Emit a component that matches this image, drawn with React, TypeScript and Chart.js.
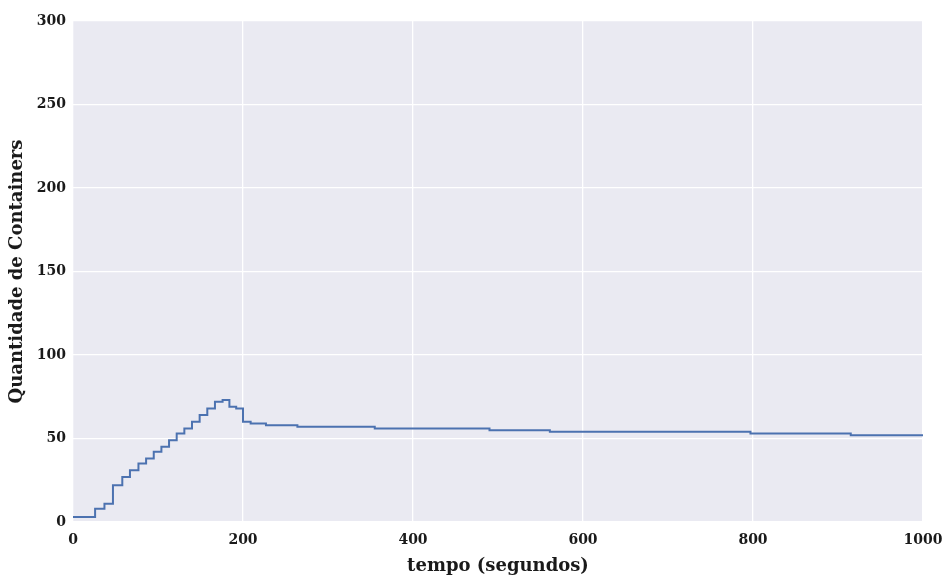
import React, { useEffect, useRef } from "react";
import { Chart, registerables } from "chart.js";

Chart.register(...registerables);

// Container count over time: each entry marks the instant the count changes
const changeTimes = [0, 26, 37, 47, 58, 67, 77, 86, 95, 104, 113, 122, 131, 140, 149, 158, 167, 176, 184, 192, 200, 209, 227, 264, 355, 490, 561, 797, 915, 1000];
const containerCounts = [3, 8, 11, 22, 27, 31, 35, 38, 42, 45, 49, 53, 56, 60, 64, 68, 72, 73, 69, 68, 60, 59, 58, 57, 56, 55, 54, 53, 52, 52];

const xTitle = "tempo (segundos)";
const yTitle = "Quantidade de Containers";

const FONT = "'DejaVu Serif', serif";

const plotBackground = {
  id: "plotBackground",
  beforeDraw(chart: any) {
    const { ctx, chartArea } = chart;
    ctx.save();
    ctx.fillStyle = "#EAEAF2";
    ctx.fillRect(chartArea.left, chartArea.top, chartArea.right - chartArea.left, chartArea.bottom - chartArea.top);
    ctx.restore();
  },
};

export default function App() {
  const canvasRef = useRef<HTMLCanvasElement | null>(null);

  useEffect(() => {
    document.body.style.margin = "0";
    const canvas = canvasRef.current;
    if (!canvas) return;
    const points = changeTimes.map((t, i) => ({ x: t, y: containerCounts[i] }));
    const chart = new Chart(canvas, {
      type: "line",
      data: {
        datasets: [
          {
            data: points,
            stepped: "before",
            borderColor: "#4C72B0",
            borderWidth: 2,
            pointRadius: 0,
            fill: false,
          },
        ],
      },
      options: {
        animation: false,
        responsive: false,
        maintainAspectRatio: false,
        layout: { padding: { top: 21, right: 23, left: 0, bottom: 0 } },
        plugins: {
          legend: { display: false },
          tooltip: { enabled: false },
        },
        scales: {
          x: {
            type: "linear",
            min: 0,
            max: 1000,
            afterFit(scale: any) {
              scale.height = 57;
              scale.paddingRight = 0;
              scale.paddingLeft = 0;
            },
            ticks: {
              stepSize: 200,
              padding: 10,
              color: "#1a1a1a",
              font: { family: FONT, size: 14, weight: "bold" },
              maxRotation: 0,
              callback: (v: any) => String(v),
            },
            grid: { color: "#FFFFFF", lineWidth: 1.3, drawTicks: false },
            border: { display: false },
            title: {
              display: true,
              text: xTitle,
              color: "#1a1a1a",
              font: { family: FONT, size: 18, weight: "bold" },
              padding: { top: 2, bottom: 2 },
            },
          },
          y: {
            type: "linear",
            min: 0,
            max: 300,
            afterFit(scale: any) {
              scale.width = 73;
            },
            ticks: {
              stepSize: 50,
              padding: 7,
              color: "#1a1a1a",
              font: { family: FONT, size: 14, weight: "bold" },
              callback: (v: any) => String(v),
            },
            grid: { color: "#FFFFFF", lineWidth: 1.3, drawTicks: false },
            border: { display: false },
            title: {
              display: true,
              text: yTitle,
              color: "#1a1a1a",
              font: { family: FONT, size: 18, weight: "bold" },
              padding: { top: 7, bottom: 0 },
            },
          },
        },
      },
      plugins: [plotBackground],
    });
    return () => chart.destroy();
  }, []);

  return (
    <div style={{ position: "fixed", left: 0, top: 0, width: 946, height: 579, background: "#FFFFFF" }}>
      <canvas ref={canvasRef} width={946} height={579} />
    </div>
  );
}
